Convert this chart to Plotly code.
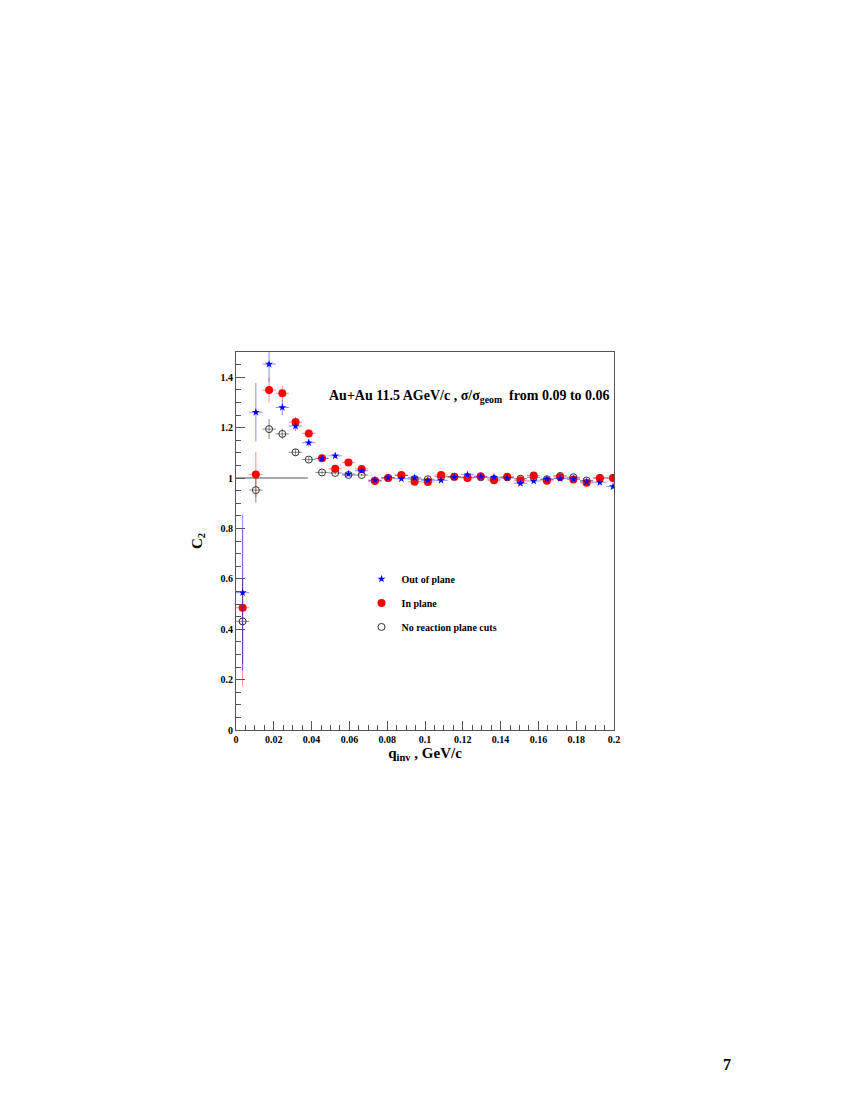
import plotly.graph_objects as go

# bin centres, GeV/c
q_inv = [0.0035, 0.0105, 0.0175, 0.0245, 0.0315, 0.0385, 0.0455, 0.0525, 0.0595, 0.0665,
         0.0735, 0.0805, 0.0875, 0.0945, 0.1015, 0.1085, 0.1155, 0.1225, 0.1295, 0.1365,
         0.1435, 0.1505, 0.1575, 0.1645, 0.1715, 0.1785, 0.1855, 0.1925, 0.1995]
q_half_bin = [0.0035] * 29

out_plane = [0.545, 1.261, 1.452, 1.280, 1.206, 1.140, 1.078, 1.088, 1.016, 1.029,
             0.992, 1.001, 0.997, 1.001, 0.991, 0.991, 1.003, 1.013, 1.005, 1.003,
             1.000, 0.979, 0.988, 0.995, 0.998, 0.997, 0.985, 0.983, 0.966]
out_plane_err = [0.31, 0.116, 0.07, 0.03, 0.02, 0.015, 0.012, 0.010, 0.009, 0.008,
                 0.007, 0.007, 0.007, 0.007, 0.007, 0.007, 0.007, 0.007, 0.007, 0.007,
                 0.007, 0.007, 0.007, 0.007, 0.007, 0.007, 0.007, 0.007, 0.007]

in_plane = [0.485, 1.014, 1.349, 1.336, 1.222, 1.177, 1.078, 1.037, 1.062, 1.036,
            0.989, 1.000, 1.012, 0.985, 0.984, 1.012, 1.005, 1.000, 1.007, 0.991,
            1.005, 0.991, 1.010, 0.989, 1.004, 0.994, 0.981, 0.999, 1.000]
in_plane_err = [0.31, 0.09, 0.05, 0.03, 0.02, 0.015, 0.011, 0.009, 0.008, 0.007,
                0.006, 0.006, 0.006, 0.006, 0.006, 0.006, 0.006, 0.006, 0.006, 0.006,
                0.006, 0.006, 0.006, 0.006, 0.006, 0.006, 0.006, 0.006, 0.006]

no_cuts = [0.431, 0.952, 1.194, 1.175, 1.102, 1.073, 1.022, 1.020, 1.012, 1.012,
           0.988, 1.000, 1.010, 0.996, 0.995, 1.005, 1.005, 1.003, 1.003, 0.996,
           1.003, 0.997, 1.003, 0.995, 1.008, 1.003, 0.990, 1.001, 1.000]
no_cuts_err = [0.17, 0.05, 0.04, 0.02, 0.013, 0.010, 0.008, 0.007, 0.006, 0.005,
               0.004, 0.004, 0.004, 0.004, 0.004, 0.004, 0.004, 0.004, 0.004, 0.004,
               0.004, 0.004, 0.004, 0.004, 0.004, 0.004, 0.004, 0.004, 0.004]

serif = "Liberation Serif"

fig = go.Figure()

def add_series(y, yerr, name, color, err_color, symbol, size, rank, outline=False):
    marker = dict(symbol=symbol, size=size, color=color)
    if outline:
        marker["line"] = dict(color=color, width=1)
    fig.add_trace(go.Scatter(
        x=q_inv, y=y, mode="markers", name=name, legendgroup=name, legendrank=rank,
        marker=marker,
        error_x=dict(type="data", array=q_half_bin, color=err_color, thickness=1, width=0),
        error_y=dict(type="data", array=yerr, color=err_color, thickness=1, width=0),
    ))

add_series(no_cuts, no_cuts_err, "No reaction plane cuts", "#333333", "rgba(60,60,60,0.6)",
           "circle-open", 7, 3, outline=True)
add_series(in_plane, in_plane_err, "In plane", "#ff0000", "rgba(255,0,0,0.45)",
           "circle", 8, 2)
add_series(out_plane, out_plane_err, "Out of plane", "#0000ff", "rgba(0,0,255,0.45)",
           "star", 6, 1)

# short reference line at C2 = 1
fig.add_shape(type="line", x0=0, x1=0.038, y0=1, y1=1, xref="x", yref="y",
              line=dict(color="#555555", width=1), layer="below")

fig.add_annotation(
    text="Au+Au 11.5 AGeV/c , σ/σ<sub>geom</sub>  from 0.09 to 0.06",
    xref="paper", yref="paper", x=0.995, y=0.883, xanchor="right", yanchor="middle",
    showarrow=False, font=dict(family=serif, size=14, color="black", weight="bold"))

fig.add_annotation(
    text="7", xref="paper", yref="paper", x=1.299, y=-0.886,
    xanchor="center", yanchor="middle", showarrow=False,
    font=dict(family=serif, size=16, color="black", weight="bold"))

axis_common = dict(
    showgrid=False, zeroline=False, showline=True, linecolor="#555555", linewidth=1,
    mirror=True, ticks="inside", ticklen=9, tickcolor="#555555",
    tickfont=dict(family=serif, size=10, color="black", weight="bold"),
)

fig.update_xaxes(
    range=[0, 0.2], dtick=0.02, tick0=0,
    minor=dict(dtick=0.005, ticks="inside", ticklen=5, tickcolor="#555555"),
    title=dict(text="q<sub>inv</sub> , GeV/c", standoff=2,
               font=dict(family=serif, size=15, color="black", weight="bold")),
    **axis_common)
fig.update_yaxes(
    range=[0, 1.5], dtick=0.2, tick0=0,
    minor=dict(dtick=0.05, ticks="inside", ticklen=5, tickcolor="#555555"),
    title=dict(text="C<sub>2</sub>", standoff=14,
               font=dict(family=serif, size=15, color="black", weight="bold")),
    **axis_common)

fig.update_layout(
    width=850, height=1100,
    margin=dict(l=228, r=244, t=344, b=378, autoexpand=False),
    plot_bgcolor="white", paper_bgcolor="white",
    showlegend=True,
    legend=dict(x=0.332, y=0.438, xanchor="left", yanchor="top",
                bgcolor="rgba(0,0,0,0)", tracegroupgap=5, traceorder="grouped",
                font=dict(family=serif, size=10, color="black", weight="bold")),
)

fig.write_html("out.html")
